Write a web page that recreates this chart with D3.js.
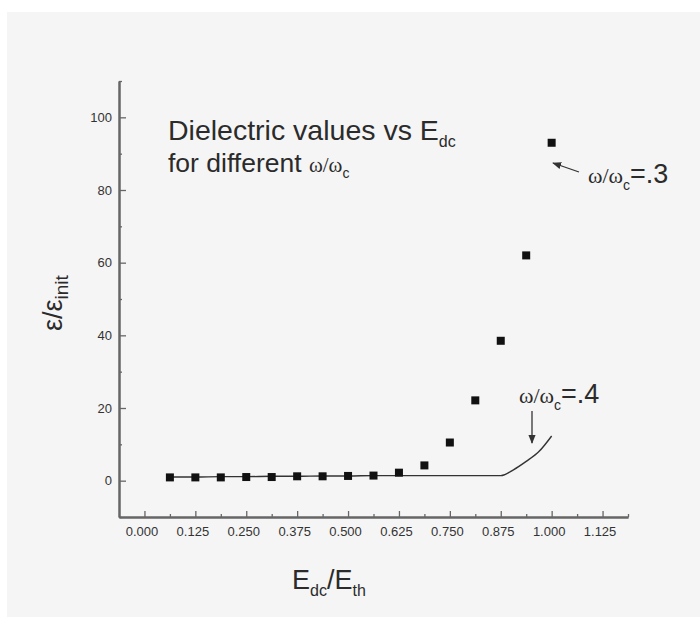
<!DOCTYPE html>
<html><head><meta charset="utf-8">
<script src="https://cdn.jsdelivr.net/npm/d3@7"></script>
<style>body{margin:0;background:#fff}svg{display:block}</style>
</head><body><svg id="c" width="700" height="617"></svg>
<script>
// ---- data ----
const xPoints = [0.0625,0.125,0.1875,0.25,0.3125,0.375,0.4375,0.5,0.5625,0.625,0.6875,0.75,0.8125,0.875,0.9375,1.0];
const epsRatio03 = [0.9,0.9,0.9,1.0,1.0,1.2,1.2,1.3,1.4,2.2,4.2,10.5,22.1,38.5,62.0,93.0];
const xLine = [0.0625,0.125,0.1875,0.25,0.3125,0.375,0.4375,0.5,0.5625,0.625,0.6875,0.75,0.8125,0.875,0.90625,0.9375,0.96875,1.0];
const epsRatio04 = [1.0,1.0,1.1,1.1,1.2,1.2,1.3,1.3,1.4,1.4,1.4,1.4,1.4,1.4,3.0,5.3,8.0,12.3];
const xTickValues = [0,0.125,0.25,0.375,0.5,0.625,0.75,0.875,1.0,1.125];
const xTickLabels = ["0.000","0.125","0.250","0.375","0.500","0.625","0.750","0.875","1.000","1.125"];
const xMinorTicks = [0.0625,0.1875,0.3125,0.4375,0.5625,0.6875,0.8125,0.9375,1.0625,1.1875];
const yTickValues = [0,20,40,60,80,100];
const yTickLabels = ["0","20","40","60","80","100"];
const yMinorTicks = [-10,10,30,50,70,90,110];

const svg = d3.select("#c");
// scanned paper background
svg.append("rect").attr("x",0).attr("y",0).attr("width",700).attr("height",617).attr("fill","#ffffff");
svg.append("rect").attr("x",7).attr("y",12).attr("width",693).attr("height",605).attr("fill","#f5f5f5");

const x = d3.scaleLinear().domain([-0.0625,1.1875]).range([119,628]);
const y = d3.scaleLinear().domain([-10,110]).range([517,81]);

const axisColor = "#666";
const labelFont = "'Liberation Sans', Arial, sans-serif";

// x axis
const gx = svg.append("g").attr("transform",`translate(0,${y(-10)})`);
gx.call(d3.axisBottom(x).tickValues(xTickValues).tickFormat((d,i)=>xTickLabels[i]).tickSizeInner(-6).tickSizeOuter(0).tickPadding(10));
const gxm = svg.append("g").attr("transform",`translate(0,${y(-10)})`);
gxm.call(d3.axisBottom(x).tickValues(xMinorTicks).tickFormat("").tickSizeInner(-3).tickSizeOuter(0));
// y axis
const gy = svg.append("g").attr("transform",`translate(${x(-0.0625)},0)`);
gy.call(d3.axisLeft(y).tickValues(yTickValues).tickFormat((d,i)=>yTickLabels[i]).tickSizeInner(-7).tickSizeOuter(0).tickPadding(7));
const gym = svg.append("g").attr("transform",`translate(${x(-0.0625)},0)`);
gym.call(d3.axisLeft(y).tickValues(yMinorTicks).tickFormat("").tickSizeInner(-3).tickSizeOuter(0));

[gx,gxm,gy,gym].forEach(g=>{
  g.select(".domain").attr("stroke",axisColor).attr("stroke-width",2);
  g.selectAll(".tick line").attr("stroke",axisColor).attr("stroke-width",1.3);
  g.selectAll(".tick text").attr("fill","#333").style("font-family",labelFont).style("font-size","13px");
});
gx.selectAll(".tick text").attr("dx",-3);

// line for w/wc = .4
const lineGen = d3.line().x((d,i)=>x(xLine[i])).y(d=>y(d)).curve(d3.curveMonotoneX);
svg.append("path").datum(epsRatio04).attr("d",lineGen).attr("fill","none").attr("stroke","#333").attr("stroke-width",1.4);

// points for w/wc = .3
svg.selectAll("rect.pt").data(epsRatio03).enter().append("rect").attr("class","pt")
  .attr("x",(d,i)=>x(xPoints[i])-4).attr("y",d=>y(d)-4).attr("width",8).attr("height",8).attr("fill","#111");

// title
const t1 = svg.append("text").attr("x",168).attr("y",140).attr("fill","#2b2b2b").style("font-family",labelFont).style("font-size","28.5px");
t1.append("tspan").text("Dielectric values vs E");
t1.append("tspan").attr("dy",7).style("font-size","16px").text("dc");
const t2 = svg.append("text").attr("x",168).attr("y",172).attr("fill","#2b2b2b").style("font-family",labelFont).style("font-size","26.5px");
t2.append("tspan").text("for different ");
t2.append("tspan").style("font-family","'Liberation Serif', serif").style("font-size","21px").text("ω/ω");
t2.append("tspan").attr("dy",6).style("font-size","14px").text("c");

// annotation .3
const a3 = svg.append("text").attr("x",588).attr("y",183).attr("fill","#2b2b2b").style("font-family",labelFont).style("font-size","27px");
a3.append("tspan").style("font-family","'Liberation Serif', serif").style("font-size","22px").text("ω/ω");
a3.append("tspan").attr("dy",7).style("font-size","14px").text("c");
a3.append("tspan").attr("dy",-7).text("=.3");
// annotation .4
const a4 = svg.append("text").attr("x",519).attr("y",403).attr("fill","#2b2b2b").style("font-family",labelFont).style("font-size","27px");
a4.append("tspan").style("font-family","'Liberation Serif', serif").style("font-size","22px").text("ω/ω");
a4.append("tspan").attr("dy",7).style("font-size","14px").text("c");
a4.append("tspan").attr("dy",-7).text("=.4");

// arrows
const defs = svg.append("defs");
defs.append("marker").attr("id","ah").attr("viewBox","0 0 10 10").attr("refX",9).attr("refY",5)
  .attr("markerWidth",7).attr("markerHeight",7).attr("orient","auto")
  .append("path").attr("d","M0,1 L10,5 L0,9 Z").attr("fill","#333");
svg.append("line").attr("x1",579).attr("y1",172).attr("x2",553).attr("y2",163).attr("stroke","#333").attr("stroke-width",1.3).attr("marker-end","url(#ah)");
svg.append("line").attr("x1",532).attr("y1",411).attr("x2",532).attr("y2",443).attr("stroke","#333").attr("stroke-width",1.3).attr("marker-end","url(#ah)");

// axis titles
const xl = svg.append("text").attr("x",292).attr("y",589).attr("fill","#2b2b2b").style("font-family",labelFont).style("font-size","27px");
xl.append("tspan").text("E");
xl.append("tspan").attr("dy",7).style("font-size","16px").text("dc");
xl.append("tspan").attr("dy",-7).text("/E");
xl.append("tspan").attr("dy",7).style("font-size","16px").text("th");

const yl = svg.append("text").attr("transform","translate(62,331) rotate(-90)").attr("fill","#2b2b2b").style("font-family",labelFont).style("font-size","27px");
yl.append("tspan").text("ε/ε");
yl.append("tspan").attr("dy",6).style("font-size","19px").text("init");
</script>
</body></html>
